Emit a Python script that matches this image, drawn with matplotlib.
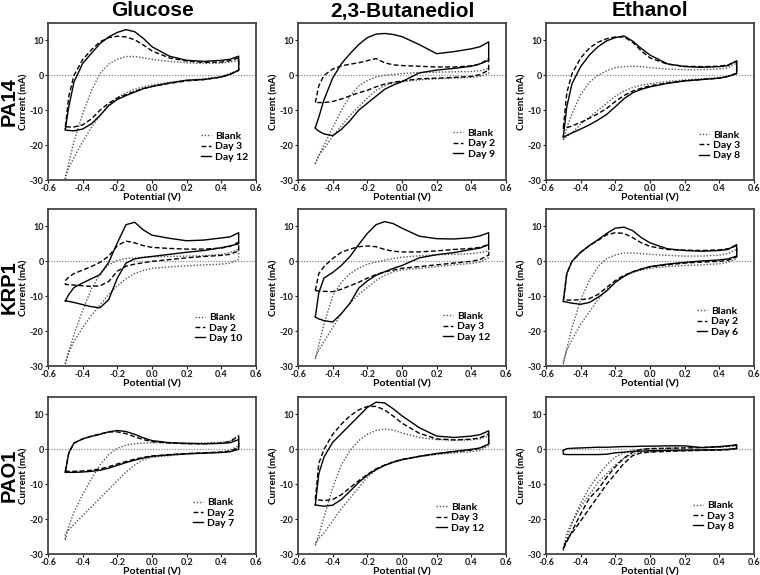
import matplotlib.pyplot as plt
from matplotlib.ticker import FormatStrFormatter

plt.rcParams['font.family'] = ['Lato', 'DejaVu Sans']
plt.rcParams['axes.unicode_minus'] = False

# potentials of the forward sweep (V); the reverse sweep runs back over them
potential = [-0.5, -0.48, -0.45, -0.4, -0.35, -0.3, -0.25, -0.2, -0.15, -0.1,
             -0.05, 0.0, 0.1, 0.2, 0.3, 0.4, 0.45, 0.5]

strains = ["PA14", "KRP1", "PAO1"]
substrates = ["Glucose", "2,3-Butanediol", "Ethanol"]

# currents (mA): 18 values of the forward sweep, then 18 of the reverse sweep
pa14_glu_blank = [-29.8, -25, -19, -11, -4.5, 0.5, 3.2, 4.6, 5.4, 5.4, 5.0, 4.6, 4.0, 3.6, 3.4, 3.5, 3.8, 4.3,
                  1.5, 0.5, -0.3, -1.0, -1.4, -2.0, -2.8, -3.3, -4.0, -5.0, -6.3, -8.5, -11.5, -15, -19, -23.5, -26.5, -29.0]
pa14_glu_d3 = [-14.7, -6, 0, 4.5, 7.3, 9.6, 10.8, 11.2, 11.0, 10.2, 8.7, 7.0, 5.0, 4.1, 3.7, 3.8, 4.2, 5.0,
               1.5, 0.3, -0.5, -1.2, -1.6, -2.3, -3.2, -3.8, -4.6, -5.5, -6.5, -8.0, -10.0, -12.5, -14.2, -14.8, -14.8, -14.7]
pa14_glu_d12 = [-15.4, -9, -1.9, 3.4, 6.3, 9.1, 11.0, 12.3, 13.1, 12.5, 10.6, 8.2, 5.5, 4.3, 4.0, 4.3, 4.6, 5.5,
                1.4, 0.3, -0.5, -1.2, -1.4, -2.2, -3.2, -3.8, -4.8, -5.8, -6.9, -8.7, -11.5, -13.9, -15.4, -15.9, -15.8, -15.7]

pa14_but_blank = [-25.5, -23, -20, -15, -10, -6, -3, -1.5, -0.5, 0, 0.3, 0.5, 0.8, 0.9, 1.0, 1.1, 1.3, 2.0,
                  0.5, -0.3, -0.6, -0.8, -1.0, -1.3, -1.8, -2.2, -3.0, -4.3, -6.5, -9.0, -11.5, -14.5, -17.5, -21, -23, -25]
pa14_but_d2 = [-7.8, -3, 0, 1.8, 2.7, 3.2, 3.6, 4.2, 4.8, 3.6, 3.0, 2.8, 2.6, 2.4, 2.4, 2.7, 3.2, 4.8,
               1.5, 0.2, -0.3, -0.6, -0.8, -1.0, -1.6, -2.0, -2.5, -3.3, -4.3, -5.0, -5.9, -6.8, -7.5, -7.8, -7.8, -7.8]
pa14_but_d9 = [-15, -12, -7, -0.8, 3.3, 6.2, 8.8, 10.8, 11.8, 12.0, 11.7, 11.1, 8.8, 6.2, 6.8, 7.6, 8.2, 9.6,
               4.3, 3.3, 2.6, 2.0, 1.5, 0.7, -1.8, -2.8, -4.0, -6.0, -8.0, -10.0, -13.0, -15.5, -17.3, -16.8, -16.0, -15.2]

pa14_eth_blank = [-18.5, -15, -11, -5.5, -2, 0, 1.3, 2.2, 2.5, 2.6, 2.5, 2.2, 1.8, 1.6, 1.6, 1.8, 2.2, 3.5,
                  0.5, -0.3, -0.7, -1.0, -1.3, -1.8, -2.4, -2.8, -3.5, -4.5, -6.0, -8.0, -10.0, -12.0, -14.0, -16.5, -17.5, -18.5]
pa14_eth_d3 = [-15, -5, 0.5, 5, 7.8, 9.5, 10.5, 11.0, 11.0, 9.5, 7.0, 5.0, 3.2, 2.6, 2.5, 2.6, 3.0, 4.0,
               0.6, -0.3, -0.8, -1.2, -1.6, -2.2, -3.0, -3.7, -4.5, -5.8, -7.5, -9.5, -11.0, -12.3, -13.5, -14.5, -15.0, -15.2]
pa14_eth_d8 = [-17.5, -9, -2.4, 2.5, 5.8, 8.2, 9.9, 10.8, 11.3, 9.8, 7.7, 5.8, 3.3, 2.5, 2.3, 2.5, 2.8, 4.2,
               0.5, -0.3, -0.8, -1.2, -1.6, -2.3, -3.3, -4.0, -5.0, -6.7, -9.0, -11.2, -12.8, -14.2, -15.4, -16.5, -17.2, -17.8]

krp1_glu_blank = [-29.5, -26, -21, -14, -8, -3.5, -1, 0.3, 0.8, 1.0, 1.2, 1.3, 1.4, 1.5, 1.6, 2.0, 2.5, 3.5,
                  0.5, -0.5, -0.8, -1.0, -1.3, -1.6, -2.0, -2.6, -3.5, -5.0, -7.0, -9.5, -12.5, -15.5, -19, -23, -26, -29]
krp1_glu_d2 = [-5.5, -4.5, -3.5, -2.5, -1.5, -0.3, 1.5, 4.5, 5.8, 5.3, 4.5, 4.0, 3.7, 3.5, 3.5, 3.8, 4.3, 5.5,
               3.0, 2.0, 1.7, 1.4, 1.0, 0.5, 0.0, -0.4, -0.8, -1.4, -2.8, -5.8, -7.0, -7.2, -7.0, -6.8, -6.7, -6.6]
krp1_glu_d10 = [-11.3, -9.5, -7.5, -6.2, -5.0, -3.8, -0.3, 5.3, 10.5, 11.2, 9.0, 7.5, 6.6, 5.9, 6.1, 6.7, 7.0, 8.2,
                5.0, 4.4, 3.9, 3.1, 2.6, 2.0, 1.4, 1.1, 0.7, -0.5, -4.8, -11.0, -13.3, -13.0, -12.4, -11.8, -11.5, -11.3]

krp1_but_blank = [-28, -24, -18, -10, -6, -3.5, -2.0, -0.8, -0.2, 0.3, 0.8, 1.2, 1.6, 1.9, 2.0, 2.2, 2.5, 3.0,
                  1.0, -0.2, -0.6, -1.0, -1.5, -2.0, -2.5, -3.0, -4.0, -5.5, -7.5, -9.5, -12, -15, -19, -23, -25.5, -27.5]
krp1_but_d3 = [-8.4, -3.5, -1.5, 0.8, 2.6, 3.5, 4.2, 4.4, 4.2, 3.4, 2.9, 2.7, 2.7, 3.0, 3.4, 3.7, 4.0, 4.8,
               1.8, 0.5, 0.0, -0.5, -1.0, -1.5, -2.0, -2.5, -3.0, -3.8, -4.8, -6.0, -7.0, -8.0, -8.7, -8.6, -8.5, -8.4]
krp1_but_d12 = [-15.9, -9, -4.8, -3.2, -1.2, 1.4, 4.8, 8.0, 10.5, 11.4, 10.8, 9.5, 7.2, 6.5, 6.4, 6.8, 7.3, 8.2,
                4.8, 3.8, 3.4, 2.5, 1.9, 1.0, -1.2, -2.0, -3.0, -4.0, -5.6, -7.7, -12.0, -15.0, -17.4, -17.0, -16.5, -16.0]

krp1_eth_blank = [-29.5, -25, -19, -11, -5.5, -1.5, 0.8, 1.8, 2.4, 2.4, 2.2, 2.0, 1.7, 1.5, 1.5, 1.8, 2.2, 3.5,
                  0.8, -0.3, -0.7, -1.0, -1.2, -1.5, -2.0, -2.5, -3.2, -4.3, -6.0, -8.0, -11, -14.5, -18, -22.5, -25.5, -28.5]
krp1_eth_d2 = [-11.2, -3.5, 0, 2.6, 4.5, 6.0, 7.6, 8.2, 8.0, 6.8, 5.3, 4.3, 3.4, 3.2, 3.1, 3.3, 3.6, 4.5,
               1.3, 0.3, 0.0, -0.2, -0.5, -1.0, -1.6, -2.2, -3.0, -4.0, -5.5, -7.5, -9.5, -10.7, -11.0, -11.1, -11.1, -11.2]
krp1_eth_d6 = [-11.5, -3.5, 0, 2.6, 4.5, 6.2, 8.0, 9.5, 9.8, 8.8, 6.8, 5.3, 3.6, 3.1, 2.9, 3.1, 3.4, 4.8,
               1.5, 0.7, 0.4, 0.1, -0.3, -0.8, -1.5, -2.2, -3.0, -4.3, -6.0, -8.5, -10.3, -11.8, -12.3, -12.0, -11.7, -11.5]

pao1_glu_blank = [-26, -22, -18, -13, -8.5, -4.5, -1.5, 0.3, 1.2, 1.6, 1.8, 1.9, 1.9, 1.8, 1.8, 2.0, 2.4, 4.0,
                  1.0, -0.3, -0.7, -1.0, -1.3, -1.8, -2.3, -3.0, -4.5, -6.5, -9.0, -11.5, -14, -16.5, -19, -21.5, -23, -24]
pao1_glu_d2 = [-6.3, -1.0, 1.8, 3.0, 3.8, 4.4, 5.0, 5.0, 4.5, 3.6, 2.8, 2.2, 1.8, 1.6, 1.6, 1.8, 2.2, 3.8,
               0.5, -0.5, -0.8, -1.0, -1.2, -1.5, -1.9, -2.3, -2.8, -3.5, -4.2, -5.0, -5.6, -6.0, -6.2, -6.3, -6.3, -6.3]
pao1_glu_d7 = [-6.5, -1.0, 1.8, 3.0, 3.7, 4.3, 5.0, 5.4, 5.1, 4.3, 3.3, 2.5, 1.9, 1.7, 1.6, 1.7, 1.9, 2.8,
               0.0, -0.7, -0.9, -1.1, -1.3, -1.6, -2.0, -2.5, -3.1, -3.8, -4.6, -5.4, -6.0, -6.3, -6.5, -6.6, -6.6, -6.6]

pao1_but_blank = [-27.5, -24.5, -19.5, -11, -4.5, -0.3, 2.5, 4.3, 5.4, 5.8, 5.5, 4.7, 3.4, 2.8, 2.6, 2.7, 3.0, 3.8,
                  1.0, -0.3, -0.7, -1.0, -1.5, -2.1, -2.8, -3.5, -4.5, -6.0, -8.0, -11, -14, -17, -20.5, -24, -25.5, -27]
pao1_but_d3 = [-14.4, -4, 0, 4.3, 7.2, 9.6, 11.3, 12.3, 12.3, 11.3, 9.5, 7.5, 4.6, 3.0, 2.7, 2.9, 3.3, 4.4,
               1.5, 0.3, -0.2, -0.7, -1.3, -2.0, -2.9, -3.6, -4.5, -5.6, -7.2, -9.0, -11, -13, -14.4, -14.7, -14.5, -14.4]
pao1_but_d12 = [-15.9, -7, -2.2, 2.0, 4.5, 7.0, 9.5, 12.0, 13.5, 13.3, 11.6, 9.6, 6.2, 3.8, 3.4, 3.8, 4.2, 5.3,
                1.5, 0.4, 0.0, -0.6, -1.2, -2.0, -3.0, -3.7, -4.6, -5.8, -7.4, -9.5, -12, -14.4, -16.0, -16.3, -16.1, -15.9]

pao1_eth_blank = [-29, -25.5, -21, -15.5, -11, -7.5, -4.5, -2.2, -1.0, -0.3, 0, 0.2, 0.3, 0.4, 0.5, 0.6, 0.8, 1.0,
                  0.2, -0.1, -0.2, -0.3, -0.4, -0.5, -0.7, -0.9, -1.3, -2.5, -4.5, -7.0, -9.5, -13, -16.5, -21, -24, -28.5]
pao1_eth_d3 = [-28.5, -26.5, -23.5, -18.5, -14, -11.5, -8, -5, -2.5, -0.8, 0, 0.2, 0.3, 0.4, 0.5, 0.7, 0.9, 1.2,
               0.2, -0.1, -0.2, -0.3, -0.4, -0.6, -0.8, -1.0, -1.8, -4.0, -7.0, -10.0, -13.5, -17, -20.5, -24, -26, -28]
pao1_eth_d8 = [-0.3, 0.2, 0.3, 0.4, 0.5, 0.6, 0.6, 0.7, 0.8, 0.8, 0.9, 0.9, 1.0, 1.0, 0.5, 0.8, 1.0, 1.3,
               0.3, 0.0, -0.1, -0.2, -0.2, -0.3, -0.4, -0.5, -0.6, -0.8, -1.0, -1.4, -1.5, -1.5, -1.5, -1.5, -1.5, -1.4]

curves = [
    [[pa14_glu_blank, pa14_glu_d3, pa14_glu_d12],
     [pa14_but_blank, pa14_but_d2, pa14_but_d9],
     [pa14_eth_blank, pa14_eth_d3, pa14_eth_d8]],
    [[krp1_glu_blank, krp1_glu_d2, krp1_glu_d10],
     [krp1_but_blank, krp1_but_d3, krp1_but_d12],
     [krp1_eth_blank, krp1_eth_d2, krp1_eth_d6]],
    [[pao1_glu_blank, pao1_glu_d2, pao1_glu_d7],
     [pao1_but_blank, pao1_but_d3, pao1_but_d12],
     [pao1_eth_blank, pao1_eth_d3, pao1_eth_d8]],
]

labels = [
    [["Blank", "Day 3", "Day 12"], ["Blank", "Day 2", "Day 9"], ["Blank", "Day 3", "Day 8"]],
    [["Blank", "Day 2", "Day 10"], ["Blank", "Day 3", "Day 12"], ["Blank", "Day 2", "Day 6"]],
    [["Blank", "Day 2", "Day 7"], ["Blank", "Day 3", "Day 12"], ["Blank", "Day 3", "Day 8"]],
]

# legend anchors (axes fraction) for each panel
leg_pos = [
    [(0.71, 0.34), (0.72, 0.36), (0.71, 0.35)],
    [(0.68, 0.37), (0.67, 0.38), (0.70, 0.41)],
    [(0.67, 0.39), (0.64, 0.36), (0.68, 0.37)],
]

styles = [
    dict(color="#555555", linestyle=(0, (1, 1.3)), linewidth=1.0),
    dict(color="black", linestyle=(0, (3.5, 1.8)), linewidth=1.0),
    dict(color="black", linestyle="-", linewidth=1.0),
]

W, H = 760, 575
fig = plt.figure(figsize=(W / 100, H / 100), dpi=100)

col_left = [48, 298, 546]
row_top = [23, 209, 397]
aw, ah = 208, 157

loop_E = potential + potential[::-1]

for r in range(3):
    for c in range(3):
        ax = fig.add_axes([col_left[c] / W, 1 - (row_top[r] + ah) / H, aw / W, ah / H])
        ax.axhline(0, color="#8c8c8c", linestyle=(0, (1, 1.2)), linewidth=0.9, zorder=0)
        for cur, lab, st in zip(curves[r][c], labels[r][c], styles):
            ax.plot(loop_E + [loop_E[0]], cur + [cur[0]], label=lab, **st)
        ax.set_xlim(-0.6, 0.6)
        ax.set_ylim(-30, 15)
        ax.set_xticks([-0.6, -0.4, -0.2, 0.0, 0.2, 0.4, 0.6])
        ax.set_yticks([-30, -20, -10, 0, 10])
        ax.xaxis.set_major_formatter(FormatStrFormatter('%.1f'))
        ax.tick_params(labelsize=6.5, length=2, width=0.8, pad=1, colors="#1a1a1a")
        for t in ax.get_xticklabels() + ax.get_yticklabels():
            t.set_fontweight("bold")
        for sp in ax.spines.values():
            sp.set_color("#444444")
            sp.set_linewidth(1.3)
        ax.set_xlabel("Potential (V)", fontsize=7.5, fontweight="bold", labelpad=0)
        ax.set_ylabel("Current (mA)", fontsize=7, fontweight="bold", labelpad=1)
        leg = ax.legend(loc="upper left", bbox_to_anchor=leg_pos[r][c], frameon=False,
                        fontsize=7.5, handlelength=1.0, handletextpad=0.4, labelspacing=0.1,
                        borderpad=0)
        for t in leg.get_texts():
            t.set_fontweight("bold")

for c, name in enumerate(substrates):
    fig.text((col_left[c] + aw / 2) / W, 1 - 11 / H, name, ha="center", va="center",
             fontsize=15, fontweight="bold", family=["Liberation Sans", "DejaVu Sans"])

for r, name in enumerate(strains):
    fig.text(9 / W, 1 - (row_top[r] + ah / 2) / H, name, ha="center", va="center",
             rotation=90, fontsize=14.5, fontweight="bold", family=["Liberation Sans", "DejaVu Sans"])

fig.savefig("out.png", dpi=100)
